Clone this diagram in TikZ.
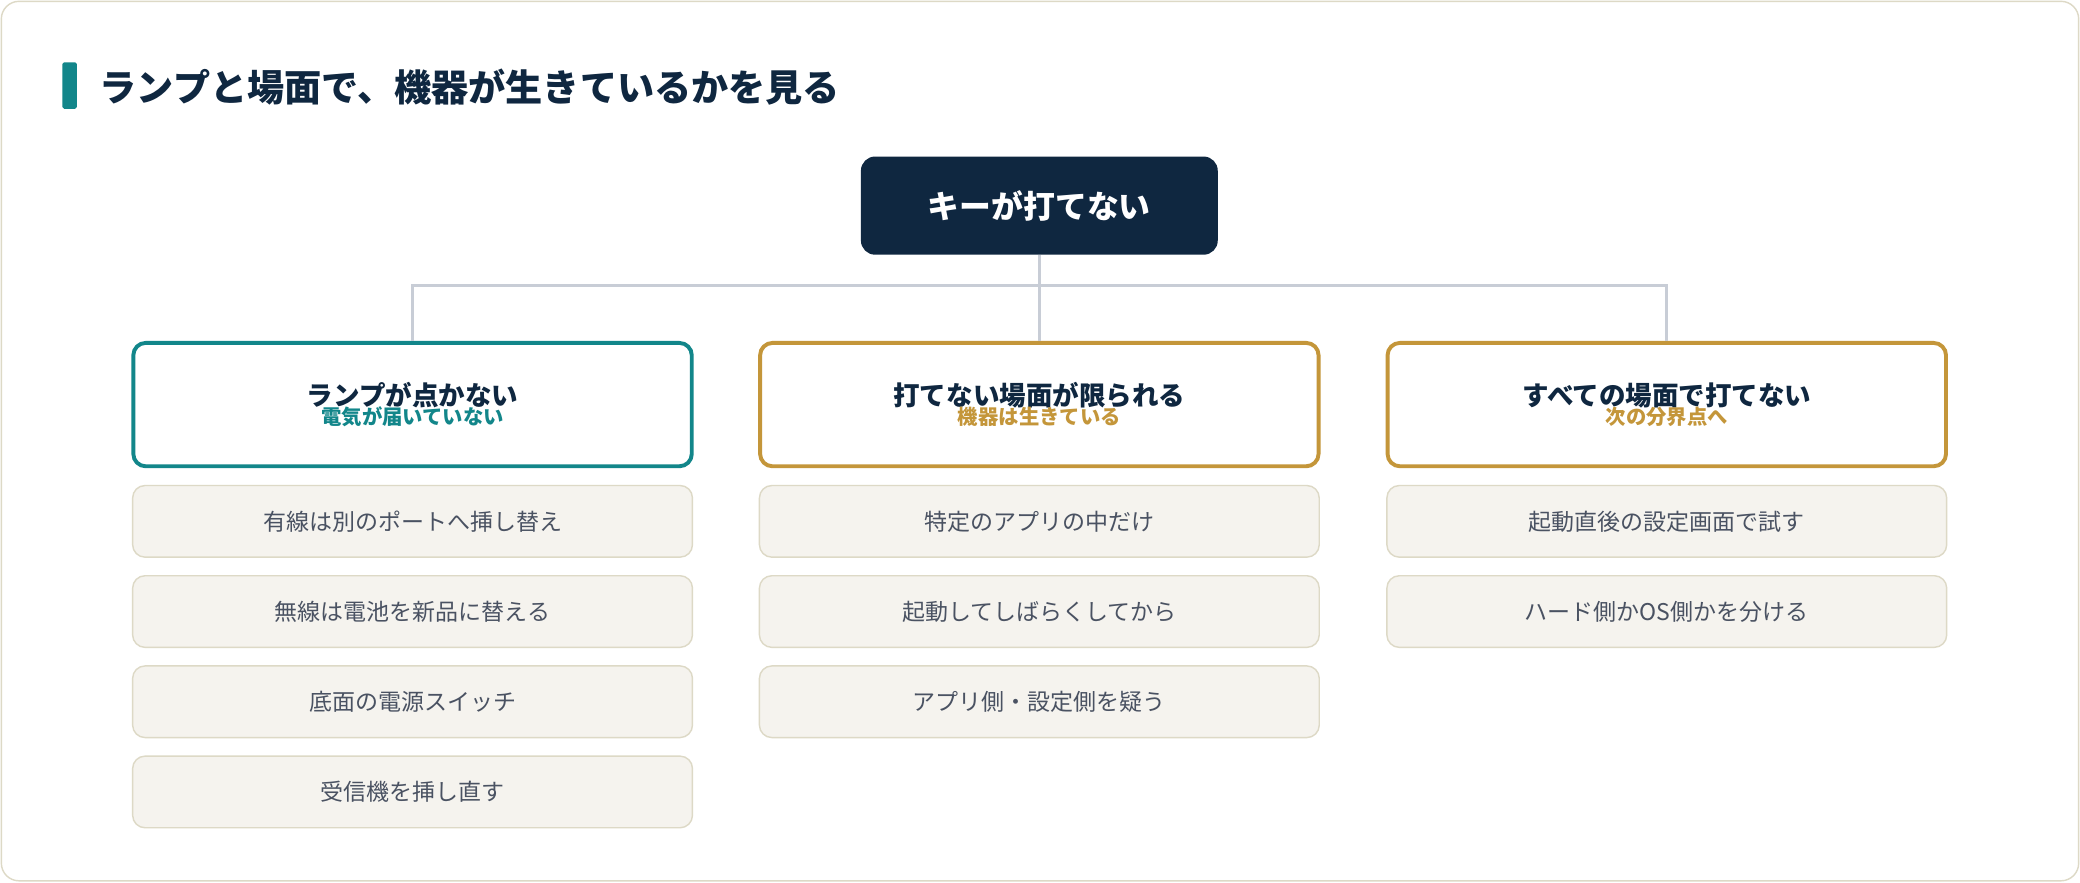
\documentclass[tikz,border=0pt]{standalone}
\usepackage{fontspec}
\setmainfont{Noto Sans CJK JP}
\definecolor{navy}{HTML}{0F2740}
\definecolor{teal}{HTML}{12868A}
\definecolor{gold}{HTML}{C4963A}
\definecolor{itemfill}{HTML}{F5F3EE}
\definecolor{itemdraw}{HTML}{DDD9C6}
\definecolor{itemtext}{HTML}{4A5262}
\definecolor{conn}{HTML}{C8CDD6}
\begin{document}
\begin{tikzpicture}[x=0.75pt,y=-0.75pt,
 cat/.style={draw=#1,line width=2.2pt,rounded corners=7pt,fill=white,minimum width=421*0.75pt,minimum height=93*0.75pt,align=center,inner sep=0pt},
 item/.style={draw=itemdraw,line width=0.8pt,rounded corners=7pt,fill=itemfill,minimum width=422*0.75pt,minimum height=54*0.75pt,inner sep=0pt,font=\fontsize{13}{15}\selectfont,text=itemtext},
 ttl/.style={font=\bfseries\fontsize{15}{18}\selectfont,text=navy},
 conline/.style={draw=conn,line width=1.6pt}]
\path[use as bounding box] (0,0) rectangle (1568,665);
\draw[draw=itemdraw,line width=0.8pt,rounded corners=10pt,fill=white] (1,1) rectangle (1567,664);
\fill[teal,rounded corners=1pt] (47,47) rectangle (58,82);
\node[anchor=west,font=\bfseries\fontsize{21}{25}\selectfont,text=navy,inner sep=0pt] (title) at (75,66) {ランプと場面で、機器が生きているかを見る};
\node[fill=navy,rounded corners=8pt,minimum width=269*0.75pt,minimum height=74*0.75pt,text=white,font=\bfseries\fontsize{18}{22}\selectfont] (root) at (783.5,155) {キーが打てない};
\node[cat=teal] (c1) at (311,305) {\hbox{\bfseries\fontsize{15}{18}\selectfont\color{navy}ランプが点かない}\\[-1pt]\hbox{\bfseries\fontsize{11.5}{14}\selectfont\color{teal}電気が届いていない}};
\node[cat=gold] (c2) at (783.5,305) {\hbox{\bfseries\fontsize{15}{18}\selectfont\color{navy}打てない場面が限られる}\\[-1pt]\hbox{\bfseries\fontsize{11.5}{14}\selectfont\color{gold}機器は生きている}};
\node[cat=gold] (c3) at (1256.5,305) {\hbox{\bfseries\fontsize{15}{18}\selectfont\color{navy}すべての場面で打てない}\\[-1pt]\hbox{\bfseries\fontsize{11.5}{14}\selectfont\color{gold}次の分界点へ}};
\coordinate (j) at (783.5,215);
\draw[conline] (root.south) -- (j);
\draw[conline] (j) -| (c1.north);
\draw[conline] (j) -- (c2.north);
\draw[conline] (j) -| (c3.north);
\node[item] (a1) at (311,393) {有線は別のポートへ挿し替え};
\node[item] (a2) at (311,461) {無線は電池を新品に替える};
\node[item] (a3) at (311,529) {底面の電源スイッチ};
\node[item] (a4) at (311,597) {受信機を挿し直す};
\node[item] (b1) at (783.5,393) {特定のアプリの中だけ};
\node[item] (b2) at (783.5,461) {起動してしばらくしてから};
\node[item] (b3) at (783.5,529) {アプリ側・設定側を疑う};
\node[item] (d1) at (1256.5,393) {起動直後の設定画面で試す};
\node[item] (d2) at (1256.5,461) {ハード側かOS側かを分ける};
\end{tikzpicture}
\end{document}
